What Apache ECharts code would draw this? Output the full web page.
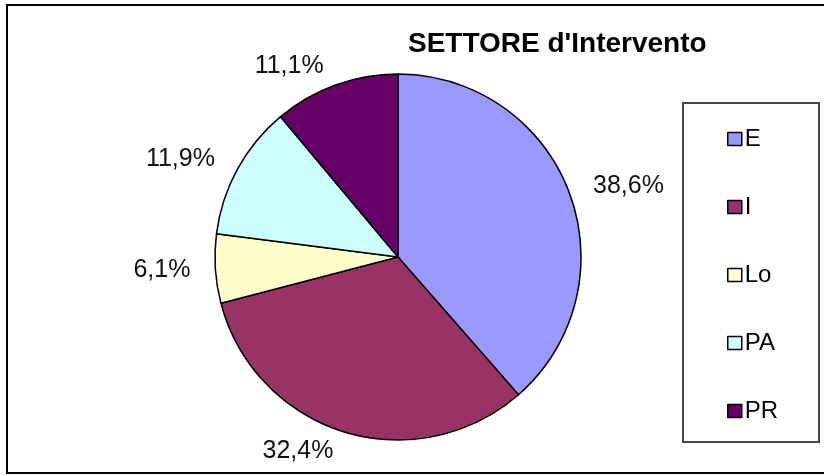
<!DOCTYPE html>
<html>
<head>
<meta charset="utf-8">
<script src="https://cdn.jsdelivr.net/npm/echarts@6/dist/echarts.min.js"></script>
<style>
  html, body { margin: 0; padding: 0; background: #fff; }
  #chart { width: 824px; height: 475px; }
</style>
</head>
<body>
<div id="chart"></div>
<script>
// settori e percentuali
const categories = ['E', 'I', 'Lo', 'PA', 'PR']
const values = [38.6, 32.4, 6.1, 11.9, 11.1]
const colors = ['#9999FF', '#993366', '#FFFFCC', '#CCFFFF', '#660066']

const font = '"Liberation Sans", Arial, sans-serif'

const chart = echarts.init(document.getElementById('chart'))

const option = {
  backgroundColor: '#fff',
  animation: false,
  title: {
    text: "SETTORE d'Intervento",
    left: 403,
    top: 25,
    textStyle: { fontFamily: font, fontSize: 28, fontWeight: 'bold', color: '#000' }
  },
  legend: {
    orient: 'vertical',
    left: 722,
    top: 122,
    itemGap: 44,
    itemWidth: 14,
    itemHeight: 13,
    icon: 'rect',
    itemStyle: { borderColor: '#000', borderWidth: 1.5 },
    textStyle: { fontFamily: font, fontSize: 24, color: '#000', padding: [0, 0, 0, -2] },
    data: categories
  },
  graphic: [
    { type: 'rect', shape: { x: 7, y: 5, width: 830, height: 468 },
      style: { fill: 'none', stroke: '#000', lineWidth: 2 }, silent: true },
    { type: 'rect', shape: { x: 683, y: 103, width: 136, height: 339 },
      style: { fill: 'none', stroke: '#444', lineWidth: 2 }, silent: true }
  ],
  series: [{
    type: 'pie',
    center: [398, 257],
    radius: 183,
    startAngle: 90,
    clockwise: true,
    avoidLabelOverlap: false,
    itemStyle: { borderColor: '#000', borderWidth: 1.5 },
    label: {
      show: true,
      position: 'outside',
      fontFamily: font,
      fontSize: 25,
      color: '#111',
      formatter: p => p.value.toFixed(1).replace('.', ',') + '%'
    },
    labelLine: { show: false, length: 20, length2: 0 },
    emphasis: { disabled: true },
    data: categories.map((c, i) => ({ name: c, value: values[i], itemStyle: { color: colors[i] } }))
  }]
}

chart.setOption(option)
</script>
</body>
</html>
